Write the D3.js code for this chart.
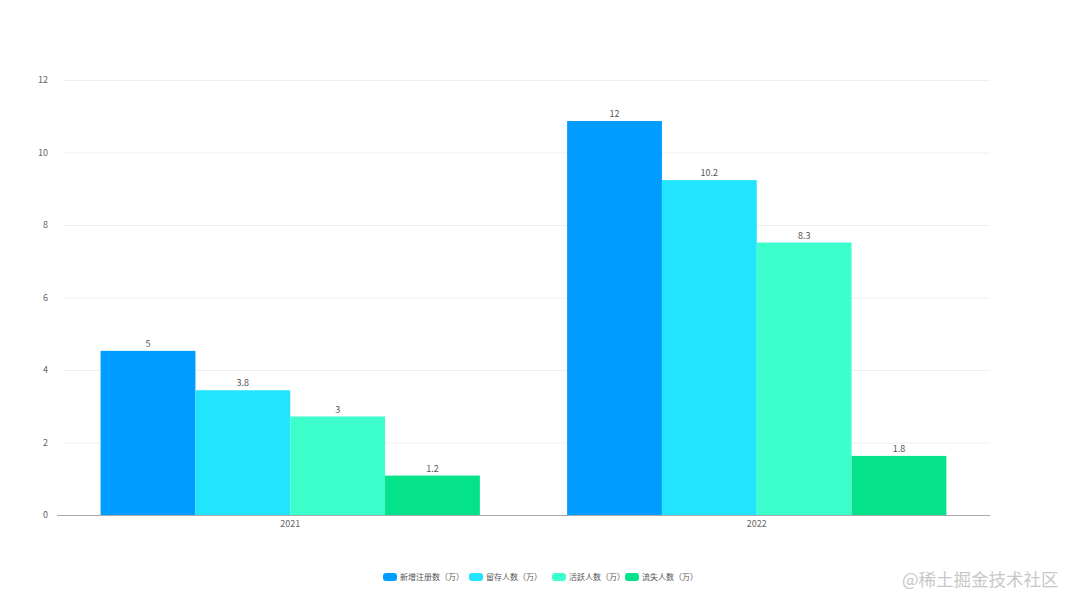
<!DOCTYPE html>
<html><head><meta charset="utf-8">
<script src="https://cdn.jsdelivr.net/npm/d3@7/dist/d3.min.js"></script>
<style>
html,body{margin:0;padding:0;background:#fff;}
svg{display:block;font-family:"Noto Sans CJK SC","Noto Sans",sans-serif;}
</style></head><body>
<svg id="chart" width="1080" height="608"></svg>
<script>
const categories = ["2021", "2022"];
const seriesNames = ["新增注册数（万）", "留存人数（万）", "活跃人数（万）", "流失人数（万）"];
const seriesColors = ["#009cff", "#23e4ff", "#3cffcc", "#05e38a"];
const values2021 = [5, 3.8, 3, 1.2];
const values2022 = [12, 10.2, 8.3, 1.8];
const yTicks = [0, 2, 4, 6, 8, 10, 12];
const seriesValues = [values2021, values2022];
// bars in the reference are drawn against a larger max than the axis labels show
const barScaleMax = 13.25;

const svg = d3.select("#chart");
const plotLeft = 57, plotRight = 990, plotTop = 80, plotBottom = 515;

const x0 = d3.scaleBand().domain(categories).range([plotLeft, plotRight]).paddingInner(0).paddingOuter(0);
const x1 = d3.scaleBand().domain(d3.range(seriesNames.length)).range([0, x0.bandwidth()]).paddingInner(0).paddingOuter(0.46);
const yAxis = d3.scaleLinear().domain([0, 12]).range([plotBottom, plotTop]);
const yBar = d3.scaleLinear().domain([0, barScaleMax]).range([plotBottom, plotTop]);

// grid
svg.append("g").selectAll("line").data(yTicks.filter(d => d > 0)).join("line")
  .attr("x1", 63).attr("x2", plotRight)
  .attr("y1", d => yAxis(d) + 0.5).attr("y2", d => yAxis(d) + 0.5)
  .attr("stroke", "#efefef").attr("stroke-width", 1);

// y tick labels
svg.append("g").selectAll("text").data(yTicks).join("text")
  .attr("x", 48).attr("y", d => yAxis(d)).attr("dy", "0.35em")
  .attr("text-anchor", "end").attr("font-size", 9).attr("fill", "#666")
  .text(d => d);

// bars
const groups = svg.append("g").selectAll("g").data(categories).join("g")
  .attr("transform", c => `translate(${x0(c)},0)`);
groups.each(function(c, ci) {
  const g = d3.select(this);
  const vals = seriesValues[ci];
  g.selectAll("rect").data(vals).join("rect")
    .attr("x", (d, i) => x1(i)).attr("width", x1.bandwidth())
    .attr("y", d => yBar(d)).attr("height", d => plotBottom - yBar(d))
    .attr("fill", (d, i) => seriesColors[i]);
  g.selectAll("text").data(vals).join("text")
    .attr("x", (d, i) => x1(i) + x1.bandwidth() / 2).attr("y", d => yBar(d) - 4)
    .attr("text-anchor", "middle").attr("font-size", 9).attr("fill", "#555")
    .text(d => d);
});

// x axis line
svg.append("line").attr("x1", plotLeft).attr("x2", plotRight).attr("y1", plotBottom + 0.5).attr("y2", plotBottom + 0.5)
  .attr("stroke", "#aaaaaa").attr("stroke-width", 1);
svg.append("g").selectAll("text").data(categories).join("text")
  .attr("x", c => x0(c) + x0.bandwidth() / 2).attr("y", 527)
  .attr("text-anchor", "middle").attr("font-size", 9).attr("fill", "#666")
  .text(c => c);

// legend
const legendX = [383, 469, 552, 625];
const lg = svg.append("g").selectAll("g").data(seriesNames).join("g")
  .attr("transform", (d, i) => `translate(${legendX[i]},573)`);
lg.append("rect").attr("width", 14).attr("height", 8).attr("rx", 3)
  .attr("fill", (d, i) => seriesColors[i]);
lg.append("text").attr("x", 17).attr("y", 4).attr("dy", "0.35em")
  .attr("font-size", 8).attr("fill", "#555").text(d => d);

// watermark
svg.append("text").attr("x", 902).attr("y", 586).attr("font-size", 17.5)
  .attr("fill", "#c8c8c8").text("@稀土掘金技术社区");
</script>
</body></html>
